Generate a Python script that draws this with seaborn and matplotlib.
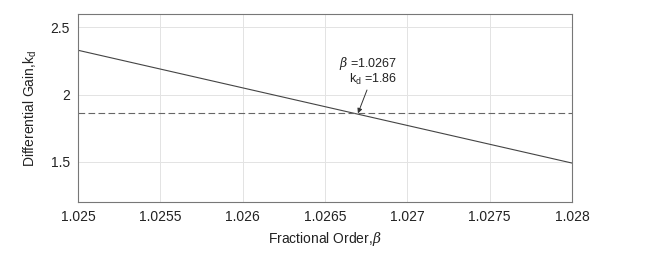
import matplotlib
matplotlib.use("Agg")
import matplotlib.pyplot as plt
import seaborn as sns
import pandas as pd

beta = [1.025, 1.028]
kd = [2.33, 1.49]
kd_ref = 1.86
beta_pt = 1.0267
xticks = [1.025, 1.0255, 1.026, 1.0265, 1.027, 1.0275, 1.028]
xtick_labels = ["1.025", "1.0255", "1.026", "1.0265", "1.027", "1.0275", "1.028"]
yticks = [1.5, 2, 2.5]
ytick_labels = ["1.5", "2", "2.5"]

sns.set_theme(style="whitegrid")
plt.rcParams['font.family'] = ['Liberation Sans', 'DejaVu Sans']
plt.rcParams['mathtext.fontset'] = 'custom'
plt.rcParams['mathtext.it'] = 'DejaVu Serif:italic'
plt.rcParams['mathtext.rm'] = 'Liberation Sans'

fig = plt.figure(figsize=(6.65, 2.56), dpi=100)
ax = fig.add_axes([78/665, 1-202/256, (572-78)/665, (202-14)/256])

df = pd.DataFrame({"beta": beta, "kd": kd})
sns.lineplot(data=df, x="beta", y="kd", ax=ax, color="#444444", lw=0.8)
dfh = pd.DataFrame({"beta": beta, "kd": [kd_ref, kd_ref]})
sns.lineplot(data=dfh, x="beta", y="kd", ax=ax, color="#666666", lw=0.8,
             linestyle=(0, (6, 3)))

ax.set_xlim(1.025, 1.028)
ax.set_ylim(1.2, 2.6)
ax.set_xticks(xticks)
ax.set_xticklabels(xtick_labels)
ax.set_yticks(yticks)
ax.set_yticklabels(ytick_labels)
ax.tick_params(labelsize=10, colors="#222222", length=0, pad=6)
ax.grid(True, color="#e3e3e3", lw=0.7)
for s in ax.spines.values():
    s.set_color("#777777")
    s.set_linewidth(0.8)

ax.set_xlabel(r"Fractional Order,$\mathit{\beta}$", fontsize=10, color="#222222", labelpad=4)
ax.set_ylabel(r"Differential Gain,k$_\mathrm{d}$", fontsize=10, color="#222222", labelpad=8)

ax.text(1.02694, 2.228, r"$\mathit{\beta}$ =1.0267", fontsize=9, color="#222222",
        ha="right", va="center")
ax.text(1.02694, 2.116, r"k$_\mathrm{d}$ =1.86", fontsize=9, color="#222222",
        ha="right", va="center")
ax.annotate("", xy=(beta_pt, kd_ref), xytext=(1.026755, 2.034),
            arrowprops=dict(arrowstyle="-|>", color="#333333", lw=0.7,
                            mutation_scale=7, shrinkA=0, shrinkB=0))

fig.savefig("out.png", dpi=100)
